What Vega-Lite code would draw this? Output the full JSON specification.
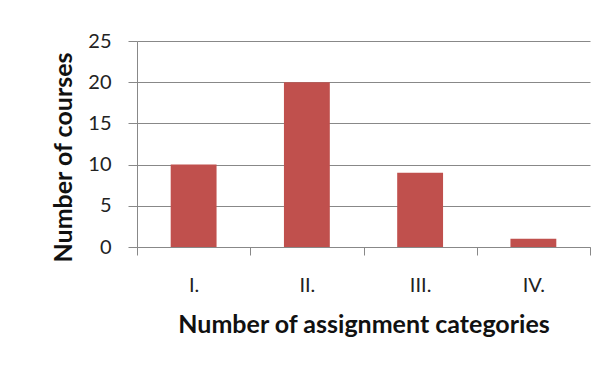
{
  "$schema": "https://vega.github.io/schema/vega-lite/v6.json",
  "autosize": "none",
  "width": 453,
  "height": 206,
  "padding": {"left": 137, "top": 41, "right": 26, "bottom": 122},
  "background": "white",
  "config": {
    "view": {"stroke": null},
    "font": "Lato",
    "axis": {
      "labelFont": "Lato",
      "titleFont": "Lato",
      "labelColor": "#222222",
      "titleColor": "#111111",
      "domainColor": "#888888",
      "tickColor": "#888888",
      "gridColor": "#888888"
    }
  },
  "data": {
    "values": [
      {"category": "I.", "courses": 10},
      {"category": "II.", "courses": 20},
      {"category": "III.", "courses": 9},
      {"category": "IV.", "courses": 1}
    ]
  },
  "mark": {"type": "bar", "color": "#C0504D", "width": {"band": 0.405}},
  "encoding": {
    "x": {
      "field": "category",
      "type": "ordinal",
      "sort": null,
      "scale": {"paddingInner": 0, "paddingOuter": 0},
      "axis": {
        "title": "Number of assignment categories",
        "titleFontSize": 25,
        "titleFontWeight": "bold",
        "titlePadding": 17,
        "labelAngle": 0,
        "labelFontSize": 20,
        "labelPadding": 20,
        "tickBand": "extent",
        "tickSize": 8,
        "grid": false
      }
    },
    "y": {
      "field": "courses",
      "type": "quantitative",
      "scale": {"domain": [0, 25]},
      "axis": {
        "title": "Number of courses",
        "titleFontSize": 25,
        "titleFontWeight": "bold",
        "titlePadding": 11,
        "titleY": 116,
        "titleAlign": "center",
        "values": [0, 5, 10, 15, 20, 25],
        "labelFontSize": 20,
        "labelPadding": 17,
        "tickSize": 9,
        "grid": true
      }
    }
  }
}
